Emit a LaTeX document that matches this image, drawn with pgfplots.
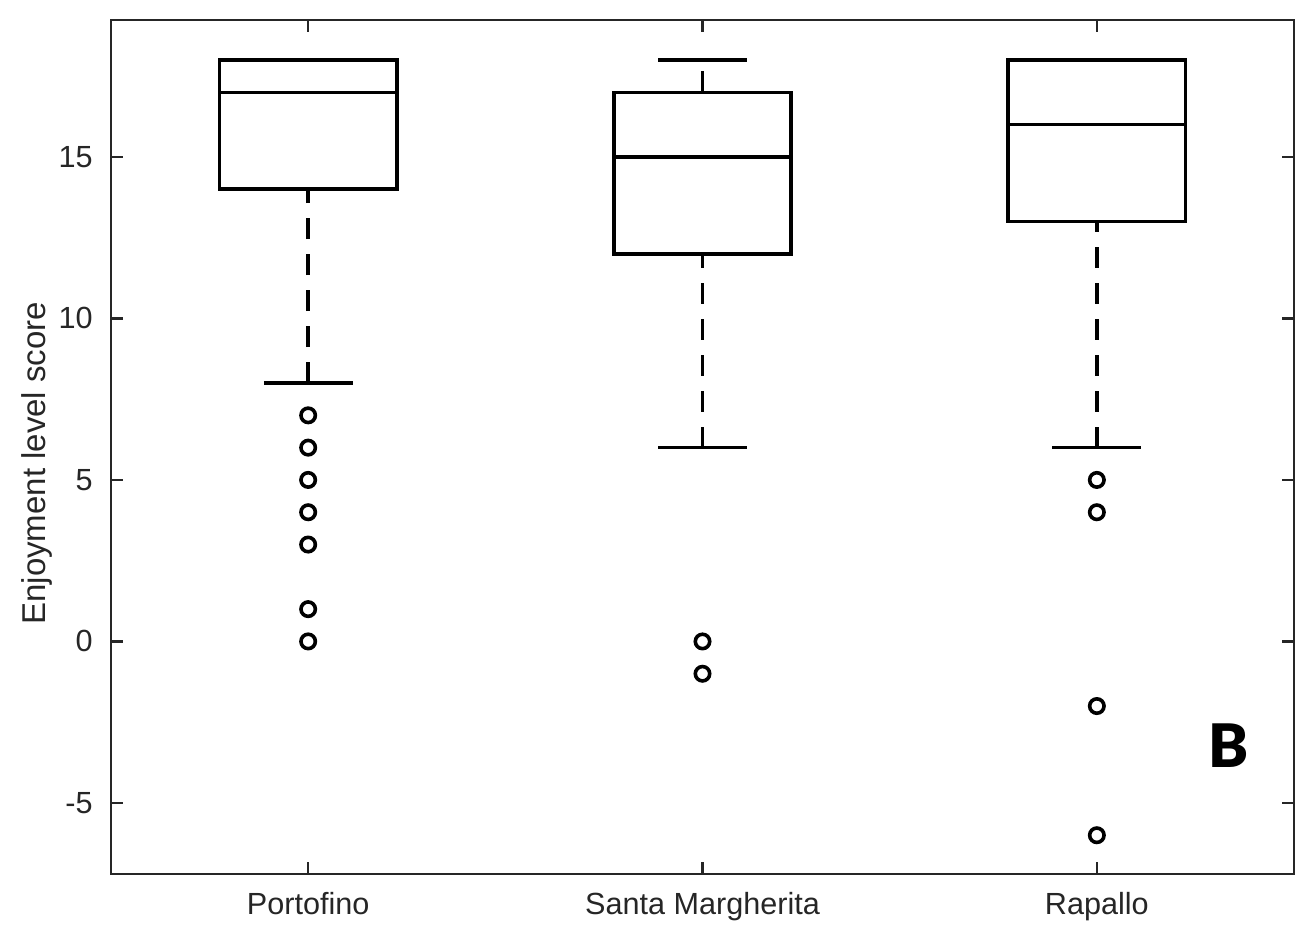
\documentclass[border=0pt]{standalone}
\usepackage{fontspec}
\setmainfont{Liberation Sans}
\newfontfamily\heavyfont{Lato Black}
\usepackage{pgfplots}
\pgfplotsset{compat=1.18}
\definecolor{axgray}{HTML}{262626}

\pgfplotsset{
  boxline/.style={black, line width=1.8pt, mark=none},
  whisk/.style={black, line width=1.8pt, mark=none, dash pattern=on 10.5pt off 7.5pt},
  outl/.style={only marks, mark=o, mark size=3.6pt, mark options={line width=1.8pt, black, solid}},
}

\begin{document}
\begin{tikzpicture}
\begin{axis}[
  scale only axis, width=591.5pt, height=427pt,
  xmin=0.5, xmax=3.5, ymin=-7.2, ymax=19.24,
  xtick={1,2,3},
  xticklabels={Portofino, Santa Margherita, Rapallo},
  ytick={-5,0,5,10,15},
  tick align=inside, major tick length=6pt,
  axis line style={axgray, line width=1.1pt},
  every tick/.style={axgray, line width=1.1pt},
  tick label style={font=\fontsize{15.3}{18}\selectfont, text=axgray},
  /pgf/number format/assume math mode=true,
  yticklabel style={inner sep=0pt, xshift=-9pt},
  xticklabel style={inner sep=0pt, yshift=-9pt},
  ylabel={Enjoyment level score},
  ylabel style={font=\fontsize{16.5}{19}\selectfont, text=axgray,
    at={(axis description cs:-0.0626,0.481)}, anchor=center},
]
% Portofino
\addplot[boxline] coordinates {(0.775,14) (1.225,14) (1.225,18) (0.775,18)} -- cycle;
\addplot[boxline] coordinates {(0.775,17) (1.225,17)};
\addplot[whisk] coordinates {(1,8) (1,14)};
\addplot[boxline] coordinates {(0.8875,8) (1.1125,8)};
\addplot[boxline] coordinates {(0.8875,18) (1.1125,18)};
\addplot[outl] coordinates {(1,7) (1,6) (1,5) (1,4) (1,3) (1,1) (1,0)};

% Santa Margherita
\addplot[boxline] coordinates {(1.775,12) (2.225,12) (2.225,17) (1.775,17)} -- cycle;
\addplot[boxline] coordinates {(1.775,15) (2.225,15)};
\addplot[whisk] coordinates {(2,6) (2,12)};
\addplot[whisk] coordinates {(2,17) (2,18)};
\addplot[boxline] coordinates {(1.8875,6) (2.1125,6)};
\addplot[boxline] coordinates {(1.8875,18) (2.1125,18)};
\addplot[outl] coordinates {(2,0) (2,-1)};

% Rapallo
\addplot[boxline] coordinates {(2.775,13) (3.225,13) (3.225,18) (2.775,18)} -- cycle;
\addplot[boxline] coordinates {(2.775,16) (3.225,16)};
\addplot[whisk] coordinates {(3,6) (3,13)};
\addplot[boxline] coordinates {(2.8875,6) (3.1125,6)};
\addplot[boxline] coordinates {(2.8875,18) (3.1125,18)};
\addplot[outl] coordinates {(3,5) (3,4) (3,-2) (3,-6)};

\node[font=\heavyfont\fontsize{30}{30}\selectfont, text=black, inner sep=0pt]
  at (axis cs:3.335,-3.22) {B};
\end{axis}
\pgfresetboundingbox
\path[use as bounding box]
  ([shift={(-55.5pt,-33pt)}]current axis.south west) rectangle
  ([shift={(2pt,10pt)}]current axis.north east);
\end{tikzpicture}
\end{document}
